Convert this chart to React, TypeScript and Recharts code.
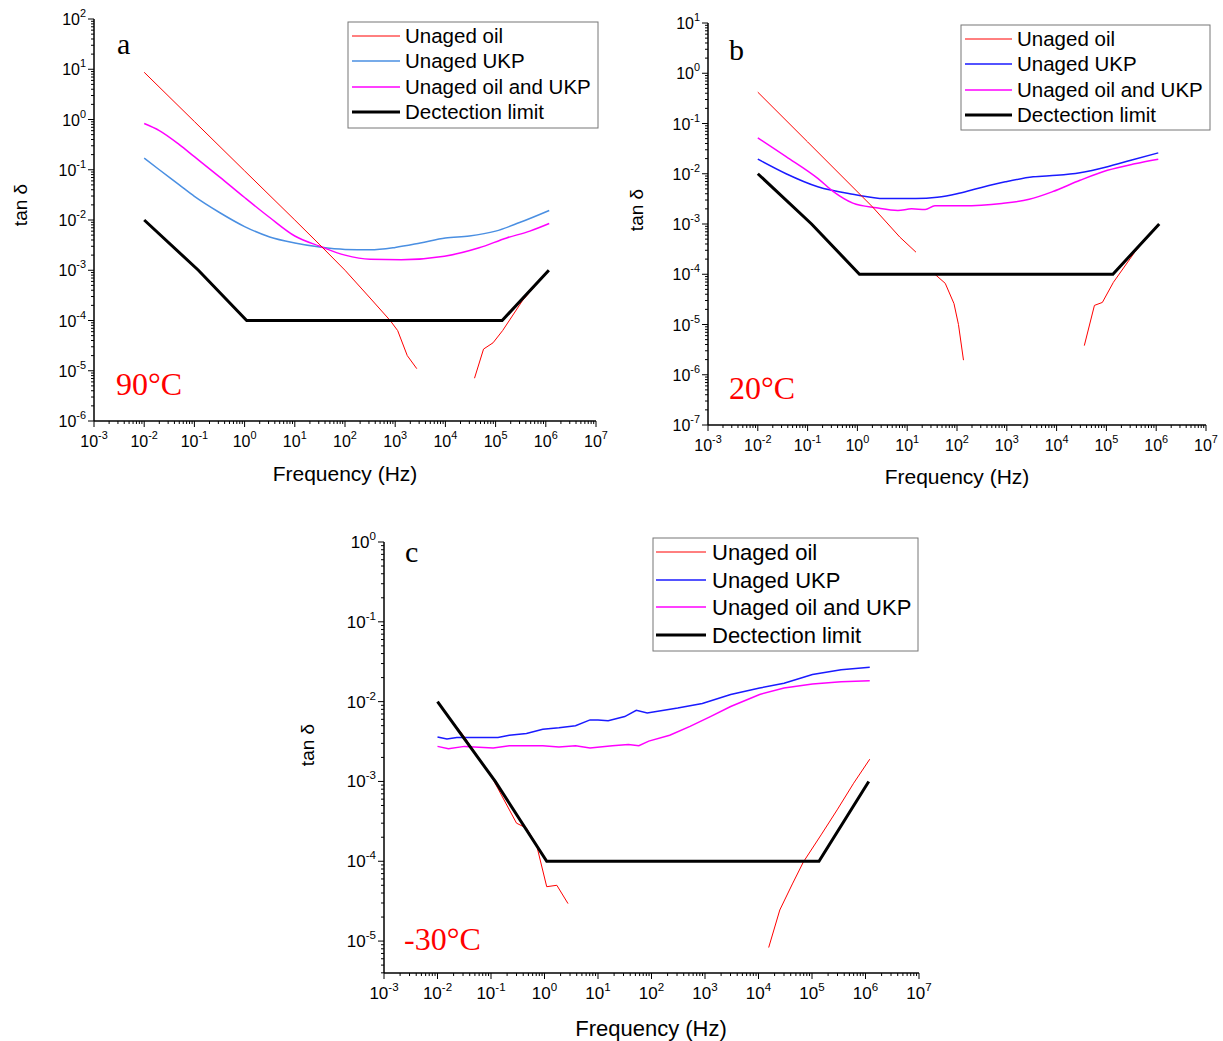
import React from 'react';
import { LineChart, Line, XAxis, YAxis } from 'recharts';

type Pair = [number, number | null];

// frequency (Hz), tan delta
const detectionLimit: Pair[] = [[0.01, 0.01], [0.12, 1e-3], [1.1, 1e-4], [1.35e5, 1e-4], [1.15e6, 1e-3]];

// 90 °C
const oil90: Pair[] = [
  [1e-2, 8.7], [0.1, 0.91], [1, 0.095], [10, 0.01], [31.6, 3.2e-3], [100, 1e-3], [316, 2.8e-4],
  [794, 1e-4], [1120, 6.3e-5], [1740, 2.0e-5], [2690, 1.1e-5], [1e4, null],
  [3.8e4, 7.1e-6], [5.75e4, 2.7e-5], [8.9e4, 3.6e-5], [1.38e5, 6.3e-5], [3.4e5, 2.45e-4], [1.12e6, 1e-3],
];
const ukp90: Pair[] = [
  [1e-2, 0.17], [0.02, 0.1], [0.05, 0.05], [0.1, 0.0295], [0.316, 0.0141], [1, 7.4e-3], [3.16, 4.6e-3],
  [10, 3.5e-3], [31.6, 2.9e-3], [100, 2.6e-3], [316, 2.55e-3], [1000, 2.85e-3], [3162, 3.5e-3],
  [1e4, 4.4e-3], [3e4, 4.8e-3], [1e5, 6.0e-3], [3e5, 8.9e-3], [1.17e6, 0.0155],
];
const mix90: Pair[] = [
  [1e-2, 0.83], [0.02, 0.6], [0.05, 0.316], [0.1, 0.182], [0.316, 0.0724], [1, 0.028], [3.16, 0.0112],
  [10, 4.8e-3], [31.6, 3.0e-3], [100, 2.0e-3], [316, 1.65e-3], [1320, 1.62e-3], [9550, 1.9e-3],
  [4.7e4, 2.8e-3], [1.66e5, 4.4e-3], [4.8e5, 6.0e-3], [1.17e6, 8.5e-3],
];

// 20 °C
const oil20: Pair[] = [
  [1e-2, 0.42], [0.1, 0.043], [2.0, 2.2e-3], [7.1, 5.5e-4], [15, 2.75e-4], [20, null],
  [36, 1e-4], [58, 6.6e-5], [87, 2.6e-5], [107, 1.0e-5], [135, 1.95e-6], [1e3, null],
  [3.6e4, 3.8e-6], [5.75e4, 2.4e-5], [8.3e4, 2.75e-5], [1.38e5, 6.9e-5], [3.7e5, 2.75e-4], [1.1e6, 1e-3],
];
const ukp20: Pair[] = [
  [1e-2, 0.0195], [0.037, 0.01], [0.16, 5.5e-3], [0.81, 3.9e-3], [3.5, 3.2e-3], [14.8, 3.2e-3],
  [40, 3.4e-3], [100, 4.0e-3], [224, 4.9e-3], [933, 6.9e-3], [3390, 8.7e-3], [1e4, 9.3e-3],
  [2.95e4, 0.0105], [1.05e5, 0.0138], [3.1e5, 0.0186], [1.1e6, 0.026],
];
const mix20: Pair[] = [
  [1e-2, 0.052], [0.037, 0.022], [0.16, 8.1e-3], [0.33, 4.4e-3], [0.81, 2.6e-3], [2.4, 2.1e-3],
  [6.5, 1.86e-3], [12.3, 2.0e-3], [23, 1.95e-3], [36, 2.3e-3], [129, 2.3e-3], [794, 2.57e-3],
  [2820, 3.1e-3], [8300, 4.4e-3], [2.95e4, 7.4e-3], [1.05e5, 0.0117], [3.7e5, 0.0158], [1.1e6, 0.0195],
];

// -30 °C
const oilM30: Pair[] = [
  [1e-2, 9.8e-3], [0.032, 3.6e-3], [0.11, 1.05e-3], [0.3, 3.0e-4], [0.46, 2.6e-4], [0.71, 1.6e-4],
  [1.1, 4.8e-5], [1.7, 5.0e-5], [2.75, 2.95e-5], [100, null],
  [1.55e4, 8.3e-6], [2.5e4, 2.45e-5], [4.3e4, 5.2e-5], [6.9e4, 9.8e-5], [1.48e5, 2.14e-4],
  [2.95e5, 4.4e-4], [6.0e5, 9.5e-4], [1.2e6, 1.9e-3],
];
const ukpM30: Pair[] = [
  [1e-2, 3.6e-3], [0.015, 3.4e-3], [0.023, 3.55e-3], [0.066, 3.55e-3], [0.135, 3.55e-3], [0.22, 3.8e-3],
  [0.46, 4.0e-3], [0.93, 4.5e-3], [1.86, 4.7e-3], [3.8, 5.0e-3], [7.1, 5.9e-3], [10, 5.9e-3],
  [15.5, 5.75e-3], [31.6, 6.5e-3], [52, 7.8e-3], [83, 7.2e-3], [309, 8.3e-3], [891, 9.5e-3],
  [3020, 0.0123], [1.05e4, 0.0148], [3.0e4, 0.017], [1.02e5, 0.0219], [3.5e5, 0.0251], [1.2e6, 0.0269],
];
const mixM30: Pair[] = [
  [1e-2, 2.75e-3], [0.016, 2.57e-3], [0.032, 2.75e-3], [0.11, 2.63e-3], [0.22, 2.8e-3], [0.93, 2.8e-3],
  [1.86, 2.7e-3], [3.8, 2.8e-3], [7.1, 2.63e-3], [18.6, 2.8e-3], [37, 2.9e-3], [58, 2.8e-3],
  [89, 3.2e-3], [219, 3.8e-3], [525, 4.9e-3], [1260, 6.5e-3], [3020, 8.7e-3], [1.05e4, 0.0123],
  [3.0e4, 0.0148], [1.02e5, 0.0166], [3.5e5, 0.0178], [1.2e6, 0.0182],
];

const seriesNames = ['Unaged oil', 'Unaged UKP', 'Unaged oil and UKP', 'Dectection limit'];

const RED = '#ff0000';
const LIGHT_BLUE = '#4a8fe2';
const BLUE = '#1a1aff';
const MAGENTA = '#ff00ff';
const BLACK = '#000000';

const SANS = '"Liberation Sans", Arial, sans-serif';
const SERIF = '"Liberation Serif", "Times New Roman", serif';

const toPts = (pairs: Pair[]) => pairs.map(([f, v]) => ({ f, v }));

const logTicks = (lo: number, hi: number) => {
  const out: number[] = [];
  for (let d = Math.floor(lo); d <= Math.ceil(hi); d++) {
    for (let k = 1; k <= 9; k++) {
      const v = k * Math.pow(10, d);
      const l = Math.log10(v);
      if (l >= lo - 1e-9 && l <= hi + 1e-9) out.push(v);
    }
  }
  return out;
};

const isMajor = (v: number) => Math.abs(Math.log10(v) - Math.round(Math.log10(v))) < 1e-6;

const XTick = (props: any) => {
  const { x, y, payload, fs } = props;
  const v = payload.value;
  const major = isMajor(v);
  return (
    <g>
      <line x1={x} y1={y} x2={x} y2={y + (major ? 6 : 3)} stroke="#000" strokeWidth={1} />
      {major && (
        <text x={x} y={y + 26} textAnchor="middle" fontFamily={SANS} fill="#000">
          <tspan fontSize={fs}>10</tspan>
          <tspan fontSize={fs * 0.68} dy={-8}>{Math.round(Math.log10(v))}</tspan>
        </text>
      )}
    </g>
  );
};

const YTick = (props: any) => {
  const { x, y, payload, fs } = props;
  const v = payload.value;
  const major = isMajor(v);
  return (
    <g>
      <line x1={x} y1={y} x2={x - (major ? 6 : 3)} y2={y} stroke="#000" strokeWidth={1} />
      {major && (
        <text x={x - 8} y={y + 6} textAnchor="end" fontFamily={SANS} fill="#000">
          <tspan fontSize={fs}>10</tspan>
          <tspan fontSize={fs * 0.68} dy={-8}>{Math.round(Math.log10(v))}</tspan>
        </text>
      )}
    </g>
  );
};

interface SeriesDef { data: Pair[]; color: string; width: number; type: 'linear' | 'monotone' }

interface PanelProps {
  left: number; top: number; plotW: number; plotH: number;
  xLog: [number, number]; yLog: [number, number];
  series: SeriesDef[]; fs: number;
}

const ML = 75, MT = 25, MR = 30, MB = 45;

const Panel: React.FC<PanelProps> = ({ left, top, plotW, plotH, xLog, yLog, series, fs }) => (
  <div style={{ position: 'absolute', left: left - ML, top: top - MT }}>
    <LineChart width={ML + plotW + MR} height={MT + plotH + MB} margin={{ top: MT, right: MR, bottom: 5, left: 5 }}>
      <XAxis
        dataKey="f" type="number" scale="log" allowDataOverflow
        domain={[Math.pow(10, xLog[0]), Math.pow(10, xLog[1])]}
        ticks={logTicks(xLog[0], xLog[1])} interval={0}
        tickSize={0} tickMargin={0} tickLine={false} height={40}
        axisLine={{ stroke: '#000', strokeWidth: 1.5 }}
        tick={(p: any) => <XTick {...p} fs={fs} />}
      />
      <YAxis
        type="number" scale="log" allowDataOverflow
        domain={[Math.pow(10, yLog[0]), Math.pow(10, yLog[1])]}
        ticks={logTicks(yLog[0], yLog[1])} interval={0}
        tickSize={0} tickMargin={0} tickLine={false} width={ML - 5}
        axisLine={{ stroke: '#000', strokeWidth: 1.5 }}
        tick={(p: any) => <YTick {...p} fs={fs} />}
      />
      {series.map((s, i) => (
        <Line
          key={i} data={toPts(s.data)} dataKey="v" type={s.type}
          stroke={s.color} strokeWidth={s.width} dot={false} activeDot={false}
          connectNulls={false} isAnimationActive={false}
        />
      ))}
    </LineChart>
  </div>
);

interface LegendProps { x: number; y: number; w: number; h: number; rows: number[]; x1: number; x2: number; tx: number; fs: number; colors: string[] }

const LegendBox: React.FC<LegendProps> = ({ x, y, w, h, rows, x1, x2, tx, fs, colors }) => (
  <g>
    <rect x={x} y={y} width={w} height={h} fill="#fff" stroke="#777" strokeWidth={1} />
    {seriesNames.map((name, i) => (
      <g key={name}>
        <line x1={x1} x2={x2} y1={rows[i]} y2={rows[i]} stroke={colors[i]} strokeWidth={i === 3 ? 3 : i === 0 ? 1 : 1.5} />
        <text x={tx} y={rows[i] + fs * 0.36} fontSize={fs} fontFamily={SANS} fill="#000">{name}</text>
      </g>
    ))}
  </g>
);

const App: React.FC = () => (
  <div style={{ position: 'absolute', left: 0, top: 0, width: 1223, height: 1041, background: '#fff' }}>
    <Panel
      left={94} top={19} plotW={502} plotH={402} xLog={[-3, 7]} yLog={[-6, 2]} fs={16}
      series={[
        { data: ukp90, color: LIGHT_BLUE, width: 1.5, type: 'monotone' },
        { data: mix90, color: MAGENTA, width: 1.5, type: 'monotone' },
        { data: oil90, color: RED, width: 1, type: 'linear' },
        { data: detectionLimit, color: BLACK, width: 3, type: 'linear' },
      ]}
    />
    <Panel
      left={708} top={23} plotW={498} plotH={402} xLog={[-3, 7]} yLog={[-7, 1]} fs={16}
      series={[
        { data: ukp20, color: BLUE, width: 1.5, type: 'monotone' },
        { data: mix20, color: MAGENTA, width: 1.5, type: 'monotone' },
        { data: oil20, color: RED, width: 1, type: 'linear' },
        { data: detectionLimit, color: BLACK, width: 3, type: 'linear' },
      ]}
    />
    <Panel
      left={384} top={542} plotW={535} plotH={431} xLog={[-3, 7]} yLog={[-5.4, 0]} fs={17}
      series={[
        { data: ukpM30, color: BLUE, width: 1.5, type: 'linear' },
        { data: mixM30, color: MAGENTA, width: 1.5, type: 'linear' },
        { data: oilM30, color: RED, width: 1, type: 'linear' },
        { data: detectionLimit, color: BLACK, width: 3, type: 'linear' },
      ]}
    />
    <svg width={1223} height={1041} style={{ position: 'absolute', left: 0, top: 0, pointerEvents: 'none' }}>
      <LegendBox x={348} y={22} w={250} h={106} rows={[36, 61, 87, 112]} x1={352} x2={400} tx={405} fs={20.5}
        colors={[RED, LIGHT_BLUE, MAGENTA, BLACK]} />
      <LegendBox x={961} y={25} w={249} h={105} rows={[39, 64, 90, 115]} x1={965} x2={1012} tx={1017} fs={20.5}
        colors={[RED, BLUE, MAGENTA, BLACK]} />
      <LegendBox x={653} y={538} w={265} h={113} rows={[552, 580, 607, 635]} x1={656} x2={706} tx={712} fs={22}
        colors={[RED, BLUE, MAGENTA, BLACK]} />

      <text x={117} y={54} fontSize={30} fontFamily={SERIF} fill="#000">a</text>
      <text x={729} y={60} fontSize={30} fontFamily={SERIF} fill="#000">b</text>
      <text x={405} y={562} fontSize={30} fontFamily={SERIF} fill="#000">c</text>

      <text x={116} y={395} fontSize={32} fontFamily={SERIF} fill={RED}>90°C</text>
      <text x={729} y={399} fontSize={32} fontFamily={SERIF} fill={RED}>20°C</text>
      <text x={404} y={950} fontSize={32} fontFamily={SERIF} fill={RED}>-30°C</text>

      <text x={345} y={481} fontSize={21} fontFamily={SANS} textAnchor="middle" fill="#000">Frequency (Hz)</text>
      <text x={957} y={484} fontSize={21} fontFamily={SANS} textAnchor="middle" fill="#000">Frequency (Hz)</text>
      <text x={651} y={1036} fontSize={22} fontFamily={SANS} textAnchor="middle" fill="#000">Frequency (Hz)</text>

      <text transform="translate(27,205) rotate(-90)" fontSize={19} fontFamily={SANS} textAnchor="middle" fill="#000">tan δ</text>
      <text transform="translate(643,210) rotate(-90)" fontSize={19} fontFamily={SANS} textAnchor="middle" fill="#000">tan δ</text>
      <text transform="translate(314,745) rotate(-90)" fontSize={19} fontFamily={SANS} textAnchor="middle" fill="#000">tan δ</text>
    </svg>
  </div>
);

export default App;
